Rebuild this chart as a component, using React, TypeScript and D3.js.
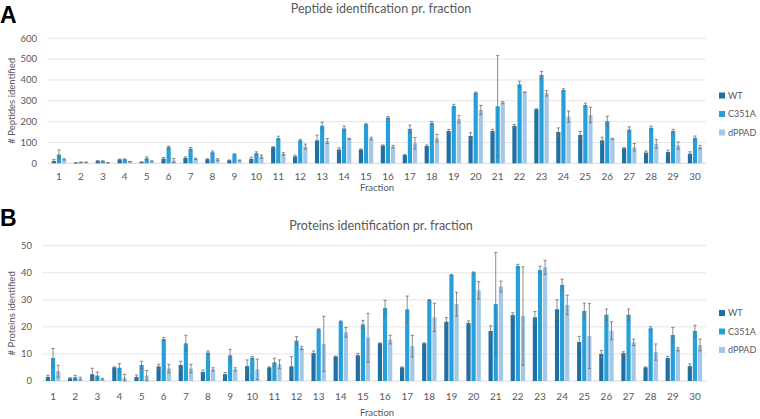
import React from "react";
import * as d3 from "d3";

const fractions = d3.range(1, 31).map(String);
const seriesNames = ["WT", "C351A", "dPPAD"];
const seriesColors = ["#1f6fa5", "#27a0da", "#a3c7e8"];

// Panel A: peptides
const pepWT = [11, 2, 11, 18, 6, 22, 26, 19, 14, 21, 77, 33, 110, 66, 66, 85, 40, 83, 155, 131, 155, 179, 259, 150, 136, 110, 72, 51, 54, 46];
const pepWTErr = [7, 1, 2, 2, 1, 6, 5, 3, 2, 8, 3, 6, 25, 8, 3, 3, 3, 5, 8, 16, 8, 7, 3, 20, 17, 15, 3, 8, 9, 9];
const pepC351A = [42, 5, 10, 19, 24, 77, 70, 53, 43, 48, 121, 110, 180, 167, 187, 219, 165, 194, 275, 338, 274, 379, 424, 352, 280, 202, 162, 170, 155, 122];
const pepC351AErr = [22, 1, 2, 2, 7, 5, 6, 6, 3, 7, 9, 5, 17, 12, 3, 5, 18, 7, 8, 4, 243, 15, 17, 6, 9, 24, 13, 8, 8, 9];
const pepDPPAD = [19, 5, 3, 8, 10, 13, 22, 18, 14, 32, 45, 80, 107, 118, 119, 80, 96, 120, 212, 256, 291, 341, 336, 224, 232, 118, 77, 93, 85, 78];
const pepDPPADErr = [3, 1, 1, 1, 2, 10, 3, 4, 2, 8, 6, 12, 12, 2, 6, 6, 28, 18, 18, 22, 5, 1, 13, 27, 37, 2, 18, 21, 17, 8];
const pepTicks = [0, 100, 200, 300, 400, 500, 600];

// Panel B: proteins
const protWT = [1.5, 1.0, 2.5, 5.0, 1.5, 5.4, 5.9, 3.3, 2.5, 5.5, 5.0, 5.4, 10.3, 9.0, 9.5, 13.9, 5.0, 13.9, 21.9, 21.4, 18.5, 24.4, 23.5, 26.5, 14.4, 10.0, 10.3, 5.0, 8.5, 5.5];
const protWTErr = [0.6, 0.2, 2.2, 0.2, 0.7, 0.8, 1.4, 0.8, 0.7, 2.3, 0.2, 3.6, 0.8, 0.2, 0.7, 0.2, 0.2, 0.2, 1.5, 0.8, 1.9, 0.8, 2.2, 3.5, 2.1, 1.3, 0.5, 0.2, 0.6, 0.8];
const protC351A = [8.5, 1.4, 2.0, 4.9, 5.9, 15.5, 13.9, 10.5, 9.5, 8.6, 6.9, 14.9, 19.1, 22.0, 20.9, 27.0, 26.5, 29.9, 39.2, 40.1, 28.4, 42.5, 41.0, 35.5, 25.9, 24.5, 24.5, 19.5, 17.0, 18.5];
const protC351AErr = [3.5, 0.7, 1.3, 1.5, 1.4, 0.6, 3.0, 0.6, 2.2, 0.5, 1.5, 1.5, 0.2, 0.2, 1.5, 2.8, 4.9, 0.2, 0.2, 0.2, 19.1, 0.6, 1.4, 2.1, 2.9, 2.1, 2.1, 0.6, 2.8, 2.1];
const protDPPAD = [3.6, 0.9, 0.7, 1.2, 2.0, 4.6, 4.6, 4.3, 4.3, 4.3, 6.2, 12.2, 13.7, 18.0, 16.0, 15.3, 12.9, 23.5, 28.4, 33.5, 34.9, 24.0, 42.0, 28.1, 16.6, 18.6, 14.3, 10.7, 11.7, 13.3];
const protDPPADErr = [2.2, 0.5, 0.3, 1.3, 1.9, 1.6, 1.6, 0.6, 0.6, 3.8, 1.6, 0.6, 10.2, 1.8, 9.0, 1.6, 4.0, 5.2, 4.4, 3.2, 2.0, 18.2, 2.6, 3.6, 12.0, 3.3, 1.2, 3.0, 0.6, 2.2];
const protTicks = [0, 10, 20, 30, 40, 50];

const FONT = "Lato, 'Open Sans', sans-serif";
const TEXT = "#595959";

type PanelProps = {
  letter: string;
  title: string;
  yLabel: string;
  values: number[][];
  errors: number[][];
  ticks: number[];
  x0: number;
  x1: number;
  yTop: number;
  yBottom: number;
  letterY: number;
  titleY: number;
  tickRight: number;
  catY: number;
  axisTitleY: number;
  legendY: number;
};

function Panel(p: PanelProps) {
  const yMax = p.ticks[p.ticks.length - 1];
  const x = d3.scaleBand<string>().domain(fractions).range([p.x0, p.x1]).padding(0);
  const inner = d3
    .scaleBand<string>()
    .domain(seriesNames)
    .range([-7.2, 7.2])
    .paddingInner(0.18);
  const y = d3.scaleLinear().domain([0, yMax]).range([p.yBottom, p.yTop]);
  const yMid = (p.yTop + p.yBottom) / 2;
  return (
    <g>
      <text x={0} y={p.letterY} fontFamily="'Liberation Sans', Arial, sans-serif" fontWeight="bold" fontSize={23} fill="#000">
        {p.letter}
      </text>
      <text x={381} y={p.titleY} textAnchor="middle" fontFamily={FONT} fontSize={12.5} fill={TEXT}>
        {p.title}
      </text>
      {p.ticks.map((t) => (
        <g key={t}>
          <line x1={p.x0} x2={p.x1} y1={y(t)} y2={y(t)} stroke={t === 0 ? "#d9d9d9" : "#e6e6e6"} strokeWidth={1} />
          <text x={p.tickRight} y={y(t) + 3.3} textAnchor="end" fontFamily={FONT} fontSize={9.5} fill={TEXT}>
            {t}
          </text>
        </g>
      ))}
      <text
        transform={`translate(14.5,${yMid}) rotate(-90)`}
        textAnchor="middle"
        fontFamily={FONT}
        fontSize={9.5}
        fill={TEXT}
      >
        {p.yLabel}
      </text>
      {fractions.map((f, i) => {
        const c = (x(f) as number) + x.bandwidth() / 2;
        return (
          <g key={f}>
            {seriesNames.map((s, si) => {
              const v = p.values[si][i];
              const e = p.errors[si][i];
              const bx = c + (inner(s) as number);
              const bw = inner.bandwidth();
              const mx = bx + bw / 2;
              return (
                <g key={s}>
                  <rect x={bx} y={y(v)} width={bw} height={y(0) - y(v)} fill={seriesColors[si]} />
                  <line x1={mx} x2={mx} y1={y(v + e)} y2={y(Math.max(0, v - e))} stroke="#6f6f6f" strokeWidth={0.8} />
                  <line x1={mx - 1.6} x2={mx + 1.6} y1={y(v + e)} y2={y(v + e)} stroke="#6f6f6f" strokeWidth={0.8} />
                  <line x1={mx - 1.6} x2={mx + 1.6} y1={y(Math.max(0, v - e))} y2={y(Math.max(0, v - e))} stroke="#6f6f6f" strokeWidth={0.8} />
                </g>
              );
            })}
            <text x={c} y={p.catY} textAnchor="middle" fontFamily={FONT} fontSize={10} fill={TEXT}>
              {f}
            </text>
          </g>
        );
      })}
      <text x={377} y={p.axisTitleY} textAnchor="middle" fontFamily={FONT} fontSize={9.5} fill={TEXT}>
        Fraction
      </text>
      {seriesNames.map((s, si) => (
        <g key={s}>
          <rect x={719} y={p.legendY + si * 18.5 - 3} width={6} height={6} fill={seriesColors[si]} />
          <text x={728} y={p.legendY + si * 18.5 + 3.2} fontFamily={FONT} fontSize={9} fill={TEXT}>
            {s}
          </text>
        </g>
      ))}
    </g>
  );
}

export default function App() {
  return (
    <svg
      width={760}
      height={419}
      style={{ position: "absolute", left: 0, top: 0, background: "#fff" }}
    >
      <rect width={760} height={419} fill="#fff" />
      <Panel
        letter="A"
        title="Peptide identification pr. fraction"
        yLabel="# Peptides identified"
        values={[pepWT, pepC351A, pepDPPAD]}
        errors={[pepWTErr, pepC351AErr, pepDPPADErr]}
        ticks={pepTicks}
        x0={48}
        x1={706}
        yTop={38.3}
        yBottom={163.3}
        letterY={23}
        titleY={12.5}
        tickRight={37}
        catY={179.5}
        axisTitleY={191}
        legendY={95.5}
      />
      <Panel
        letter="B"
        title="Proteins identification pr. fraction"
        yLabel="# Proteins identified"
        values={[protWT, protC351A, protDPPAD]}
        errors={[protWTErr, protC351AErr, protDPPADErr]}
        ticks={protTicks}
        x0={42}
        x1={706}
        yTop={245.7}
        yBottom={381}
        letterY={226}
        titleY={230}
        tickRight={32}
        catY={399.5}
        axisTitleY={415.5}
        legendY={313}
      />
    </svg>
  );
}
